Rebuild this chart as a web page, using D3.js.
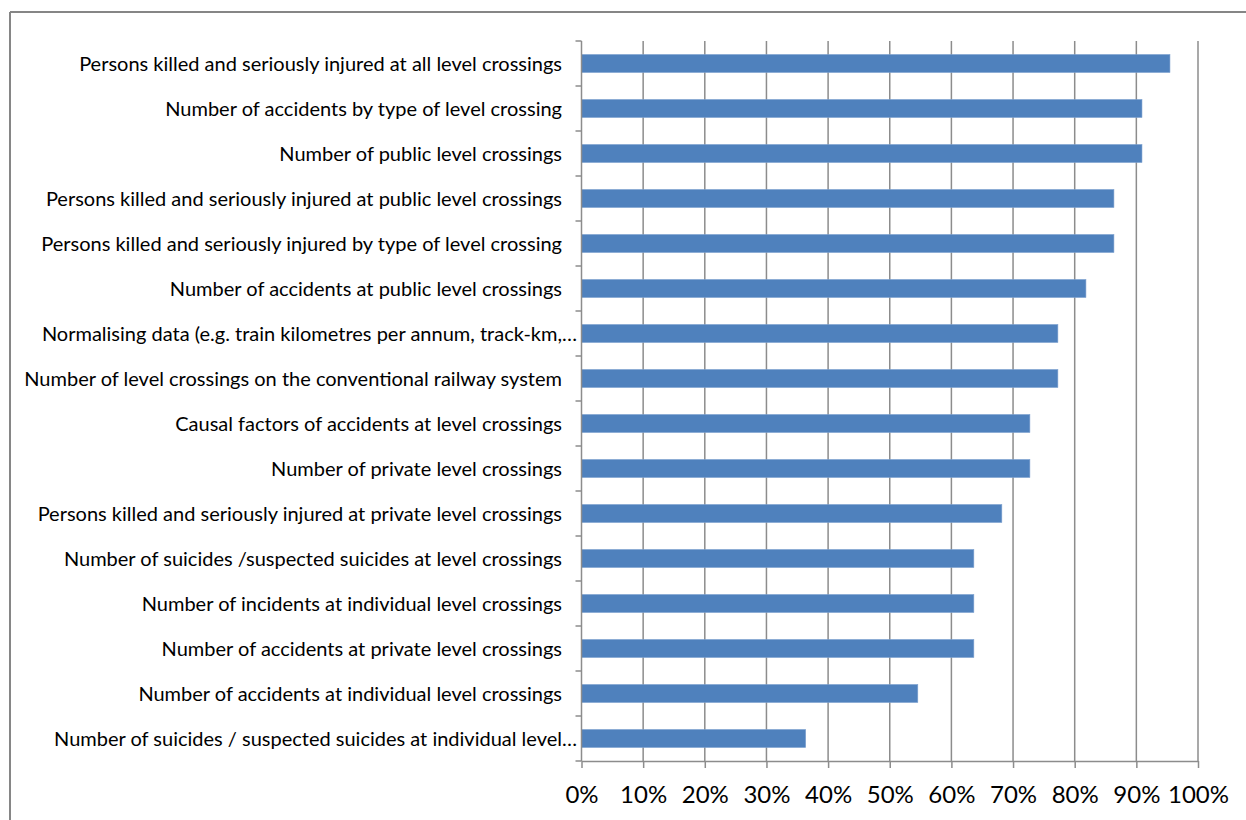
<!DOCTYPE html>
<html>
<head>
<meta charset="utf-8">
<script src="https://cdn.jsdelivr.net/npm/d3@7"></script>
<style>
  html, body { margin: 0; padding: 0; background: #fff; }
  svg { display: block; }
  text { font-family: Lato, "Open Sans", sans-serif; fill: #000; }
</style>
</head>
<body>
<svg id="chart" width="1246" height="820"></svg>
<script>
// Survey responses: share of respondents collecting each indicator
const categories = [
  "Persons killed and seriously injured at all level crossings",
  "Number of accidents by type of level crossing",
  "Number of public level crossings",
  "Persons killed and seriously injured at public level crossings",
  "Persons killed and seriously injured by type of level crossing",
  "Number of accidents at public level crossings",
  "Normalising data (e.g. train kilometres per annum, track-km,…",
  "Number of level crossings on the conventional railway system",
  "Causal factors of accidents at level crossings",
  "Number of private level crossings",
  "Persons killed and seriously injured at private level crossings",
  "Number of suicides /suspected suicides at level crossings",
  "Number of incidents at individual level crossings",
  "Number of accidents at private level crossings",
  "Number of accidents at individual level crossings",
  "Number of suicides / suspected suicides at individual level…"
];
const shares = [95.45, 90.91, 90.91, 86.36, 86.36, 81.82, 77.27, 77.27,
                72.73, 72.73, 68.18, 63.64, 63.64, 63.64, 54.55, 36.36];
const tickValues = [0, 10, 20, 30, 40, 50, 60, 70, 80, 90, 100];

const svg = d3.select("#chart");
const plot = { left: 581.5, right: 1198, top: 41, bottom: 761 };

// Outer frame (top and left edges visible)
svg.append("line").attr("x1", 10).attr("x2", 1246).attr("y1", 12).attr("y2", 12)
  .attr("stroke", "#868686").attr("stroke-width", 2);
svg.append("line").attr("x1", 10).attr("x2", 10).attr("y1", 12).attr("y2", 820)
  .attr("stroke", "#868686").attr("stroke-width", 2);

const x = d3.scaleLinear().domain([0, 100]).range([plot.left, plot.right]);
const y = d3.scaleBand().domain(categories).range([plot.top, plot.bottom])
  .paddingInner(0.6).paddingOuter(0.3);
const band = (plot.bottom - plot.top) / categories.length;

// Vertical gridlines
svg.append("g").selectAll("line").data(tickValues.slice(1)).join("line")
  .attr("x1", d => x(d)).attr("x2", d => x(d))
  .attr("y1", plot.top).attr("y2", plot.bottom)
  .attr("stroke", "#8c8c8c").attr("stroke-width", 1.5);

// Bars
svg.append("g").selectAll("rect").data(categories).join("rect")
  .attr("x", x(0))
  .attr("y", d => y(d) + y.bandwidth() / 2 - 9)
  .attr("width", (d, i) => x(shares[i]) - x(0))
  .attr("height", 18)
  .attr("fill", "#4f81bd")
  .attr("stroke", "#7ea1cf").attr("stroke-width", 0.6);

// X axis
const xAxis = svg.append("g").attr("transform", `translate(0,${plot.bottom})`)
  .call(d3.axisBottom(x).tickValues(tickValues).tickFormat(d => d + "%")
    .tickSize(7).tickSizeOuter(0).tickPadding(18));
xAxis.select(".domain").attr("stroke", "#8c8c8c").attr("stroke-width", 1.5);
xAxis.selectAll(".tick line").attr("stroke", "#8c8c8c").attr("stroke-width", 1.5);
xAxis.selectAll(".tick text").attr("font-size", 24).attr("font-family", "Lato, sans-serif");

// Y axis line with category boundary ticks
svg.append("line").attr("x1", x(0)).attr("x2", x(0))
  .attr("y1", plot.top).attr("y2", plot.bottom)
  .attr("stroke", "#8c8c8c").attr("stroke-width", 1.5);
svg.append("g").selectAll("line").data(d3.range(categories.length + 1)).join("line")
  .attr("x1", x(0) - 6).attr("x2", x(0))
  .attr("y1", i => plot.top + i * band).attr("y2", i => plot.top + i * band)
  .attr("stroke", "#8c8c8c").attr("stroke-width", 1.5);

// Category labels
svg.append("g").selectAll("text").data(categories).join("text")
  .attr("x", d => d.endsWith("…") ? 577 : 562)
  .attr("y", d => y(d) + y.bandwidth() / 2)
  .attr("dy", "0.35em")
  .attr("text-anchor", "end")
  .attr("font-size", 20)
  .text(d => d);
</script>
</body>
</html>
